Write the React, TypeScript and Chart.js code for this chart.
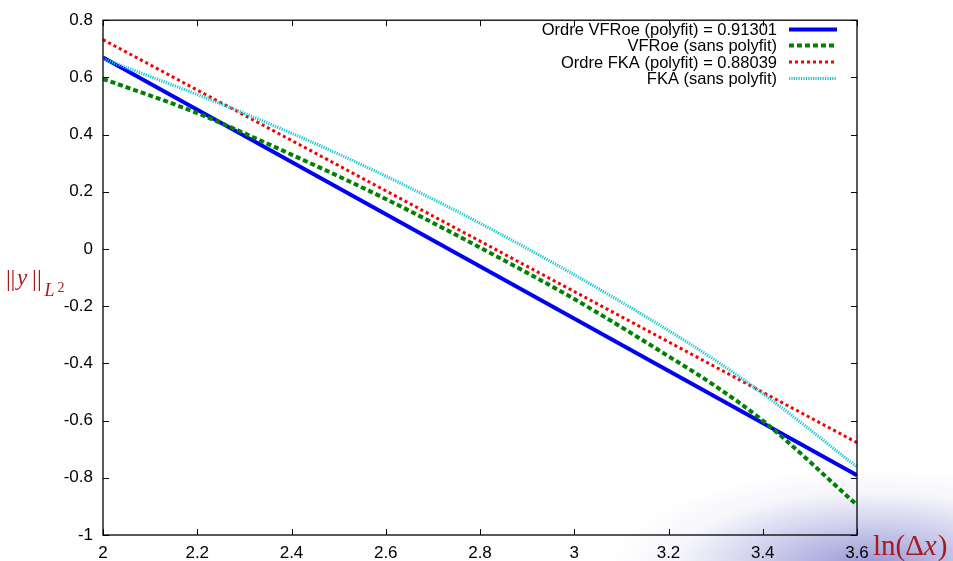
import React, { useEffect, useRef } from "react";
import { Chart, registerables } from "chart.js";

Chart.register(...registerables);

// ---- data ----
const sampleX = [2.0, 2.2, 2.4, 2.6, 2.8, 3.0, 3.2, 3.3, 3.4, 3.6];
const vfroeSans = [0.595, 0.475, 0.33, 0.175, 0.005, -0.175, -0.375, -0.48, -0.6, -0.895];
const fkaSans = [0.665, 0.54, 0.405, 0.255, 0.09, -0.09, -0.285, -0.39, -0.505, -0.762];
const fitX = [2.0, 3.6];
const vfroeFit = [0.67, -0.791];
const fkaFit = [0.732, -0.677];

const xTicks = [2, 2.2, 2.4, 2.6, 2.8, 3, 3.2, 3.4, 3.6];
const yTicks = [-1, -0.8, -0.6, -0.4, -0.2, 0, 0.2, 0.4, 0.6, 0.8];

const legendLabels = [
  "Ordre VFRoe (polyfit) = 0.91301",
  "VFRoe (sans polyfit)",
  "Ordre FKA (polyfit) = 0.88039",
  "FKA (sans polyfit)",
];

const toPts = (xs: number[], ys: number[]) => xs.map((x, i) => ({ x, y: ys[i] }));

const fmt = (v: number) => String(Math.round(v * 10) / 10);

const SANS = '"Liberation Sans", Arial, Helvetica, sans-serif';
const SERIF = '"Liberation Serif", "DejaVu Serif", "Times New Roman", serif';
const TITLE_COLOR = "#a8191d";

const framePlugin = {
  id: "gnuFrame",
  afterDraw(chart: any) {
    const { ctx, chartArea: a, scales } = chart;
    const xs = scales.x;
    const ys = scales.y;
    ctx.save();
    ctx.strokeStyle = "#000";
    ctx.lineWidth = 1.3;
    ctx.setLineDash([]);
    ctx.strokeRect(a.left, a.top, a.right - a.left, a.bottom - a.top);
    const tl = 6;
    ctx.lineWidth = 1;
    ctx.beginPath();
    xTicks.forEach((v) => {
      const px = Math.round(xs.getPixelForValue(v)) + 0.5;
      ctx.moveTo(px, a.bottom);
      ctx.lineTo(px, a.bottom - tl);
      ctx.moveTo(px, a.top);
      ctx.lineTo(px, a.top + tl);
    });
    yTicks.forEach((v) => {
      const py = Math.round(ys.getPixelForValue(v)) + 0.5;
      ctx.moveTo(a.left, py);
      ctx.lineTo(a.left + tl, py);
      ctx.moveTo(a.right, py);
      ctx.lineTo(a.right - tl, py);
    });
    ctx.stroke();

    // legend
    const ds = chart.data.datasets;
    const rowsY = [29.5, 45.5, 62, 78.5];
    ctx.font = `16.5px ${SANS}`;
    ctx.textAlign = "right";
    ctx.textBaseline = "middle";
    ctx.fillStyle = "#000";
    legendLabels.forEach((lab, i) => {
      const y = rowsY[i];
      ctx.fillText(lab, 777, y + 1);
      const d = ds[i];
      ctx.save();
      ctx.strokeStyle = d.borderColor;
      ctx.lineWidth = d.borderWidth;
      ctx.setLineDash(d.borderDash || []);
      ctx.beginPath();
      ctx.moveTo(789, y);
      ctx.lineTo(837, y);
      ctx.stroke();
      ctx.restore();
    });

    // y title ||y||_{L^2}
    ctx.fillStyle = TITLE_COLOR;
    ctx.textBaseline = "alphabetic";
    const base = 285.5;
    ctx.textAlign = "center";
    ctx.font = `24px ${SERIF}`;
    ctx.fillText("|", 8.3, base);
    ctx.fillText("|", 13, base);
    ctx.textAlign = "left";
    ctx.font = `italic 23px ${SERIF}`;
    ctx.fillText("y", 17, 284.5);
    ctx.textAlign = "center";
    ctx.font = `24px ${SERIF}`;
    ctx.fillText("|", 34.5, base);
    ctx.fillText("|", 39.3, base);
    ctx.textAlign = "left";
    ctx.font = `italic 18px ${SERIF}`;
    ctx.fillText("L", 44.5, 296.3);
    ctx.font = `14px ${SERIF}`;
    ctx.fillText("2", 57.5, 291.5);

    // x title ln(Δx)
    let tx = 873;
    const tb = 555;
    ctx.font = `29px ${SERIF}`;
    ctx.fillText("ln(\u0394", tx, tb);
    tx += ctx.measureText("ln(\u0394").width;
    ctx.font = `italic 29px ${SERIF}`;
    ctx.fillText("x", tx, tb);
    tx += ctx.measureText("x").width + 1;
    ctx.font = `29px ${SERIF}`;
    ctx.fillText(")", tx, tb);
    ctx.restore();
  },
};

export default function App() {
  const ref = useRef<HTMLCanvasElement | null>(null);
  useEffect(() => {
    if (!ref.current) return;
    const chart = new Chart(ref.current, {
      type: "line",
      data: {
        datasets: [
          {
            label: legendLabels[0],
            data: toPts(fitX, vfroeFit),
            borderColor: "rgb(0,0,245)",
            borderWidth: 4,
            pointRadius: 0,
            order: 4,
          },
          {
            label: legendLabels[1],
            data: toPts(sampleX, vfroeSans),
            borderColor: "rgb(0,130,0)",
            borderWidth: 4,
            borderDash: [5, 3],
            pointRadius: 0,
            cubicInterpolationMode: "monotone",
            order: 3,
          },
          {
            label: legendLabels[2],
            data: toPts(fitX, fkaFit),
            borderColor: "rgb(245,0,0)",
            borderWidth: 3,
            borderDash: [3, 3],
            pointRadius: 0,
            order: 2,
          },
          {
            label: legendLabels[3],
            data: toPts(sampleX, fkaSans),
            borderColor: "rgb(20,200,210)",
            borderWidth: 3.2,
            borderDash: [1.2, 1.2],
            pointRadius: 0,
            cubicInterpolationMode: "monotone",
            order: 1,
          },
        ],
      },
      options: {
        responsive: false,
        animation: false,
        layout: { padding: { top: 13, right: 96, left: 0, bottom: 0 } },
        plugins: { legend: { display: false }, tooltip: { enabled: false } },
        scales: {
          x: {
            type: "linear",
            min: 2,
            max: 3.6,
            grid: { display: false, drawTicks: false },
            border: { display: false },
            afterBuildTicks: (s: any) => {
              s.ticks = xTicks.map((v) => ({ value: v }));
            },
            afterFit: (s: any) => {
              s.height = 26;
            },
            ticks: {
              color: "#000",
              padding: 8,
              maxRotation: 0,
              autoSkip: false,
              font: { family: SANS, size: 17 },
              callback: (v: any) => fmt(Number(v)),
            },
          },
          y: {
            type: "linear",
            min: -1,
            max: 0.8,
            grid: { display: false, drawTicks: false },
            border: { display: false },
            afterBuildTicks: (s: any) => {
              s.ticks = yTicks.map((v) => ({ value: v }));
            },
            afterFit: (s: any) => {
              s.width = 103;
            },
            ticks: {
              color: "#000",
              padding: 10,
              autoSkip: false,
              font: { family: SANS, size: 17 },
              callback: (v: any) => fmt(Number(v)),
            },
          },
        },
      },
      plugins: [framePlugin],
    });
    return () => chart.destroy();
  }, []);

  return (
    <div
      style={{
        position: "absolute",
        left: 0,
        top: 0,
        width: 953,
        height: 561,
        overflow: "hidden",
        background:
          "radial-gradient(ellipse 260px 100px at 870px 568px, rgba(130,130,205,0.85) 0%, rgba(150,150,215,0.5) 40%, rgba(200,200,235,0.18) 75%, rgba(255,255,255,0) 100%), #fff",
      }}
    >
      <canvas ref={ref} width={953} height={561} style={{ display: "block" }} />
    </div>
  );
}
